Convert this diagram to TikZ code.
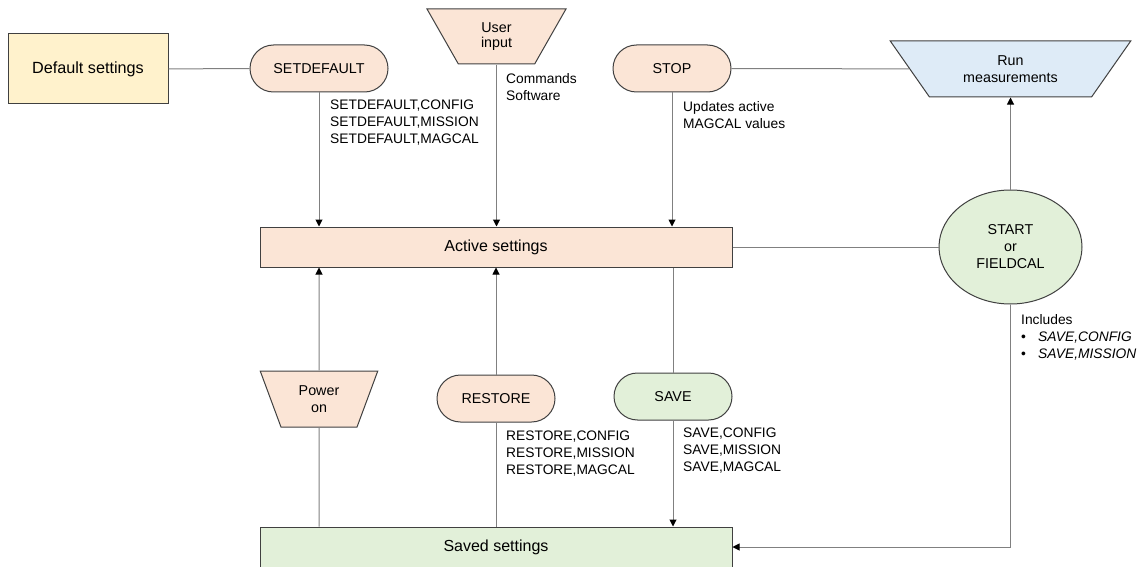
\documentclass[tikz,border=0pt]{standalone}
\usepackage{fontspec}
\setmainfont{Liberation Sans}
\usetikzlibrary{shapes.geometric,shapes.misc,arrows.meta}
\definecolor{peach}{HTML}{FBE5D6}
\definecolor{cream}{HTML}{FFF2CC}
\definecolor{mint}{HTML}{E2F0D9}
\definecolor{sky}{HTML}{DEEBF7}
\begin{document}
\begin{tikzpicture}[>={Triangle[length=7pt,width=7pt,color=black]}, x=1pt, y=-1pt]
\tikzstyle{every node}=[inner sep=0pt, align=center, font=\fontsize{14.3}{17}\selectfont]
\tikzstyle{box}=[draw=black!75, line width=1pt, rectangle]
\tikzstyle{pill}=[box, rounded rectangle, minimum height=47pt]
\tikzstyle{trap}=[box, trapezium, shape border rotate=180, trapezium stretches=true]
\tikzstyle{lbl}=[anchor=north west, align=left, font=\fontsize{13.8}{17}\selectfont]
\tikzstyle{wire}=[draw=black!50, line width=1pt]
\useasboundingbox (0,0) rectangle (1143,567);
\node[box,fill=cream,minimum width=160pt,minimum height=70pt,font=\fontsize{16.2}{19}\selectfont](def) at (88,69) {Default settings};
\node[pill,fill=peach,minimum width=138pt](setdef) at (319,68.5) {SETDEFAULT};
\node[trap,fill=peach,trapezium angle=65,minimum width=139pt,minimum height=55pt](user) at (496.5,36.5) {\raisebox{-3pt}{\shortstack{User\\[1pt]input}}};
\node[pill,fill=peach,minimum width=118pt](stop) at (672,68.5) {STOP};
\node[trap,fill=sky,trapezium angle=49.7,minimum width=241pt,minimum height=56pt](run) at (1010.5,69) {Run\\measurements};
\node[box,fill=peach,minimum width=472pt,minimum height=40pt,font=\fontsize{16}{19}\selectfont](act) at (496,247) {Active settings};
\node[box,ellipse,fill=mint,minimum width=143pt,minimum height=114pt](start) at (1010.5,247) {START\\or\\FIELDCAL};
\node[trap,fill=peach,trapezium angle=67.7,minimum width=118pt,minimum height=56pt](pwr) at (319,399) {Power\\on};
\node[pill,fill=peach,minimum width=118pt](rest) at (496,398.5) {RESTORE};
\node[pill,fill=mint,minimum width=118pt](save) at (673,396.5) {SAVE};
\node[box,fill=mint,minimum width=472pt,minimum height=40pt,font=\fontsize{16}{19}\selectfont](sav) at (496,547) {Saved settings};
% labels
\node[lbl](l1) at (330,100) {SETDEFAULT,CONFIG\\SETDEFAULT,MISSION\\SETDEFAULT,MAGCAL};
\node[lbl](l2) at (506,73) {Commands\\Software};
\node[lbl](l3) at (683,101) {Updates active\\MAGCAL values};
\node[lbl](l4) at (1021,314) {Includes\\\makebox[17pt][l]{\textbullet}\textit{SAVE,CONFIG}\\\makebox[17pt][l]{\textbullet}\textit{SAVE,MISSION}};
\node[lbl](l5) at (506,431) {RESTORE,CONFIG\\RESTORE,MISSION\\RESTORE,MAGCAL};
\node[lbl](l6) at (683,428) {SAVE,CONFIG\\SAVE,MISSION\\SAVE,MAGCAL};
% connectors
\draw[wire] (def) -- (setdef);
\draw[wire] (stop) -- (run);
\draw[wire,->] (setdef) -- (setdef |- act.north);
\draw[wire,->] (user) -- (user |- act.north);
\draw[wire,->] (stop) -- (stop |- act.north);
\draw[wire] (act) -- (start);
\draw[wire,->] (start) -- (run);
\draw[wire,->] (start) |- (sav);
\draw[wire] (sav.north -| pwr) -- (pwr);
\draw[wire,->] (pwr) -- (pwr |- act.south);
\draw[wire] (sav.north -| rest) -- (rest);
\draw[wire,->] (rest) -- (rest |- act.south);
\draw[wire] (act.south -| save) -- (save);
\draw[wire,->] (save) -- (save |- sav.north);
\end{tikzpicture}
\end{document}
